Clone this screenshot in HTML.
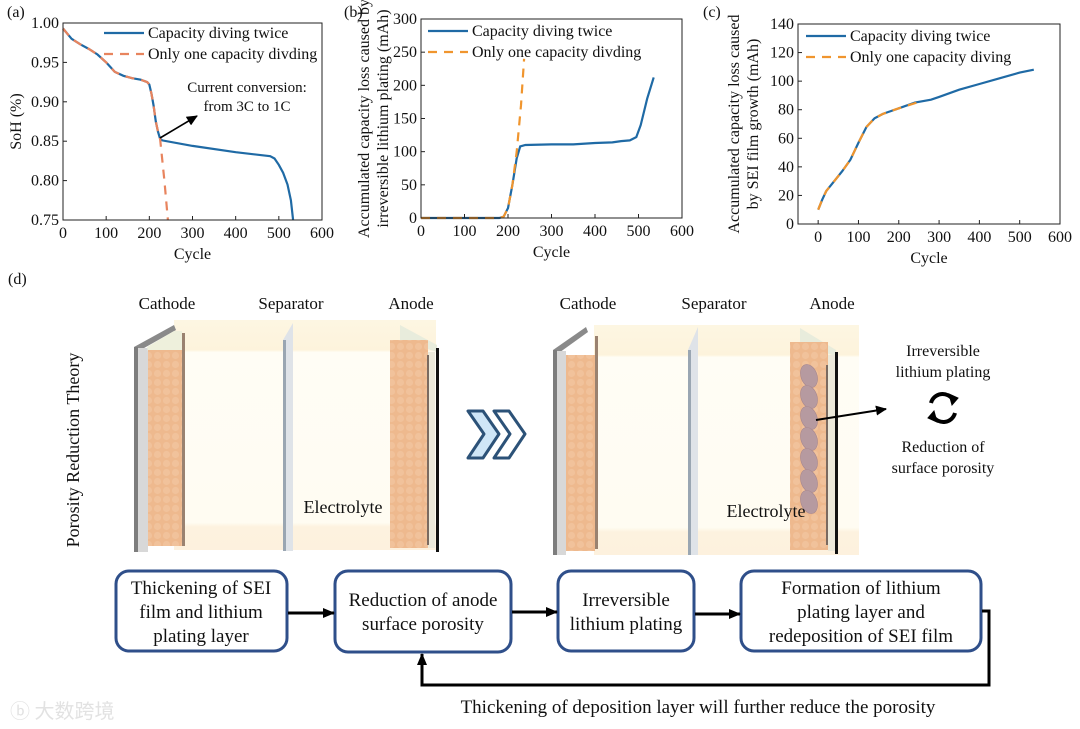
<!DOCTYPE html>
<html><head><meta charset="utf-8"><style>
body{margin:0;background:#fff}
svg{display:block;font-family:"Liberation Serif",serif}
text{fill:#111}
</style></head><body>
<svg id="fig" width="1080" height="729" viewBox="0 0 1080 729" xmlns="http://www.w3.org/2000/svg">
<defs>
<linearGradient id="cellbg" x1="0" y1="0" x2="0" y2="1">
<stop offset="0" stop-color="#fdf6e2"/><stop offset="0.13" stop-color="#fdf3dc"/><stop offset="0.14" stop-color="#fffdf5"/><stop offset="0.88" stop-color="#fffcf2"/><stop offset="0.9" stop-color="#fdf2df"/><stop offset="1" stop-color="#fdf1de"/>
</linearGradient>
<pattern id="dots" width="9" height="9" patternUnits="userSpaceOnUse"><rect width="9" height="9" fill="#eeb98e"/><circle cx="4.5" cy="4.5" r="3.6" fill="#f1c29b"/></pattern>
<marker id="ah" markerUnits="userSpaceOnUse" markerWidth="11" markerHeight="10" refX="10" refY="5" orient="auto"><path d="M0,0 L11,5 L0,10 z" fill="#000"/></marker>
<marker id="ahs" markerUnits="userSpaceOnUse" markerWidth="12" markerHeight="10" refX="11" refY="5" orient="auto"><path d="M0,0 L12,5 L0,10 z" fill="#000"/></marker>
</defs>
<g id="charts"></g>

<!-- panel d -->
<text x="8" y="284" font-size="16">(d)</text>
<text transform="translate(79,450) rotate(-90)" text-anchor="middle" font-size="18">Porosity Reduction Theory</text>

<g>
<rect x="174" y="320" width="262" height="230" fill="url(#cellbg)"/>
<polygon points="134,347 174,325 176,330 137,352" fill="#8a8a8a"/>
<rect x="134" y="347" width="4" height="205" fill="#7d7d7d"/>
<rect x="138" y="348" width="10" height="204" fill="#d8d8d8"/>
<polygon points="147,347 174,331 182,331 182,350 148,352" fill="#eef0dc"/>
<rect x="148" y="350" width="34" height="196" fill="url(#dots)"/>
<rect x="182" y="333" width="3" height="213" fill="#9a8270"/>
<polygon points="283,340 293,323 293,551 283,551" fill="#dfe3e8"/>
<rect x="283" y="340" width="3" height="211" fill="#9aa6b2"/>
<polygon points="400,325 437,345 437,352 400,340" fill="#e8ecdc"/>
<rect x="390" y="340" width="38" height="208" fill="url(#dots)"/>
<rect x="428" y="352" width="7" height="196" fill="#ece9da"/>
<rect x="427" y="355" width="2" height="190" fill="#7a6a60"/>
<rect x="436" y="348" width="3" height="204" fill="#111"/>
</g>
<g>
<rect x="594" y="325" width="265" height="230" fill="url(#cellbg)"/>
<polygon points="553,350 586,327 588,332 556,355" fill="#8a8a8a"/>
<rect x="553" y="350" width="4" height="205" fill="#7d7d7d"/>
<rect x="557" y="351" width="9" height="204" fill="#d8d8d8"/>
<rect x="566" y="355" width="29" height="196" fill="url(#dots)"/>
<rect x="595" y="336" width="3" height="213" fill="#9a8270"/>
<polygon points="688,350 698,327 698,555 688,555" fill="#dfe3e8"/>
<rect x="688" y="350" width="3" height="205" fill="#9aa6b2"/>
<polygon points="800,328 836,350 836,356 800,345" fill="#e8ecdc"/>
<rect x="790" y="342" width="38" height="208" fill="url(#dots)"/>
<rect x="828" y="355" width="7" height="196" fill="#ece9da"/>
<rect x="826" y="365" width="2" height="180" fill="#7a6a60"/>
<rect x="835" y="352" width="3" height="202" fill="#111"/>
<g fill="#b69aa0" stroke="#a8888f" stroke-width="0.6">
<ellipse cx="809" cy="376" rx="8" ry="12" transform="rotate(-20 809 376)"/>
<ellipse cx="809" cy="397" rx="8" ry="12" transform="rotate(-20 809 397)"/>
<ellipse cx="809" cy="418" rx="8" ry="12" transform="rotate(-20 809 418)"/>
<ellipse cx="809" cy="439" rx="8" ry="12" transform="rotate(-20 809 439)"/>
<ellipse cx="809" cy="460" rx="8" ry="12" transform="rotate(-20 809 460)"/>
<ellipse cx="809" cy="481" rx="8" ry="12" transform="rotate(-20 809 481)"/>
<ellipse cx="809" cy="502" rx="8" ry="12" transform="rotate(-20 809 502)"/>
</g>
<line x1="816" y1="420" x2="886" y2="409" stroke="#000" stroke-width="2" marker-end="url(#ah)"/>
</g>
<g text-anchor="middle">
<g font-size="17">
<text x="167" y="309">Cathode</text><text x="291" y="309">Separator</text><text x="411" y="309">Anode</text>
<text x="588" y="309">Cathode</text><text x="714" y="309">Separator</text><text x="832" y="309">Anode</text>
<text x="343" y="513" font-size="18">Electrolyte</text><text x="766" y="517" font-size="18">Electrolyte</text>
</g>
<g font-size="16">
<text x="943" y="356">Irreversible</text><text x="943" y="377">lithium plating</text>
<text x="943" y="452">Reduction of</text><text x="943" y="473">surface porosity</text>
</g>
</g>
<g fill="none" stroke="#000" stroke-width="4">
<path d="M931,403 A12,12 0 0 1 953,400"/><path d="M955,413 A12,12 0 0 1 933,416"/>
<polygon points="949,394 958,398 952,405" fill="#000" stroke-width="1"/>
<polygon points="937,422 928,418 934,411" fill="#000" stroke-width="1"/>
</g>
<g stroke="#2c5278" stroke-width="3" stroke-linejoin="round">
<polygon points="468,411 483,411 499,434 483,458 468,458 484,434" fill="#cfe6f7"/>
<polygon points="494,411 509,411 525,434 509,458 494,458 510,434" fill="#fff"/>
</g>

<g font-size="19" text-anchor="middle">
<g stroke="#2f4f8a" stroke-width="3" fill="#fff">
<rect x="116" y="571" width="171" height="80" rx="13"/>
<rect x="335" y="571" width="176" height="81" rx="13"/>
<rect x="558" y="571" width="136" height="80" rx="13"/>
<rect x="741" y="571" width="240" height="80" rx="13"/>
</g>
<text x="201" y="594">Thickening of SEI</text><text x="201" y="618">film and lithium</text><text x="201" y="642">plating layer</text>
<text x="423" y="606">Reduction of anode</text><text x="423" y="630">surface porosity</text>
<text x="626" y="606">Irreversible</text><text x="626" y="630">lithium plating</text>
<text x="861" y="594">Formation of lithium</text><text x="861" y="618">plating layer and</text><text x="861" y="642">redeposition of SEI film</text>
<g stroke="#000" stroke-width="3" fill="none">
<line x1="288" y1="613" x2="334" y2="613" marker-end="url(#ahs)"/>
<line x1="512" y1="612" x2="557" y2="612" marker-end="url(#ahs)"/>
<line x1="695" y1="614" x2="740" y2="614" marker-end="url(#ahs)"/>
<polyline points="982,611 989,611 989,685 422,685 422,654" marker-end="url(#ahs)"/>
</g>
<text x="698" y="713">Thickening of deposition layer will further reduce the porosity</text>
</g>
<text x="10" y="718" font-size="20" style="fill:#e2e2e2;font-family:'Noto Sans CJK SC',sans-serif">ⓑ 大数跨境</text>
</svg>
<script>
// Chart (a)
const aBlueX=[0,20,40,60,80,100,120,140,160,180,195,200,205,210,215,220,225,230,300,400,480,490,500,510,520,528,533];
const aBlueY=[0.993,0.980,0.973,0.967,0.960,0.950,0.938,0.933,0.930,0.928,0.925,0.922,0.91,0.895,0.875,0.862,0.853,0.851,0.844,0.836,0.831,0.828,0.82,0.81,0.795,0.775,0.75];
const aOrX=[0,20,40,60,80,100,120,140,160,180,195,200,205,210,215,220,225,235,243];
const aOrY=[0.993,0.980,0.973,0.967,0.960,0.950,0.938,0.933,0.930,0.928,0.925,0.922,0.91,0.895,0.875,0.862,0.853,0.80,0.75];
const aXTicks=[0,100,200,300,400,500,600];
const aYTicks=[0.75,0.80,0.85,0.90,0.95,1.00];
// Chart (b)
const bBlueX=[0,180,190,200,210,220,228,240,300,350,400,440,460,480,495,505,520,535];
const bBlueY=[0,0,2,15,50,90,108,110,111,111,113,114,116,117,122,140,180,212];
const bOrX=[0,180,190,200,210,220,230,237];
const bOrY=[0,0,2,15,50,100,170,240];
const bXTicks=[0,100,200,300,400,500,600];
const bYTicks=[0,50,100,150,200,250,300];
// Chart (c)
const cBlueX=[0,10,20,40,60,80,100,120,140,160,200,240,280,300,350,400,450,500,535];
const cBlueY=[10,17,23,30,37,45,57,68,74,77,81,85,87,89,94,98,102,106,108];
const cOrX=[0,10,20,40,60,80,100,120,140,160,200,245];
const cOrY=[10,17,23,30,37,45,57,68,74,77,81,85];
const cXTicks=[0,100,200,300,400,500,600];
const cYTicks=[0,20,40,60,80,100,120,140];

const NS='http://www.w3.org/2000/svg';
const root=document.getElementById('charts');
function mk(tag,attrs,parent){const e=document.createElementNS(NS,tag);for(const k in attrs)e.setAttribute(k,attrs[k]);(parent||root).appendChild(e);return e;}
function chart(o){
  const g=mk('g',{});
  
  
  const sx=v=>o.L+(v-o.x0)/(o.x1-o.x0)*(o.R-o.L);
  const sy=v=>o.B-(v-o.y0)/(o.y1-o.y0)*(o.B-o.T);
  const path=(xs,ys)=>xs.map((x,i)=>(i?'L':'M')+sx(x).toFixed(1)+','+sy(ys[i]).toFixed(1)).join('');
  const bl=mk('path',{d:path(o.bx,o.by),fill:'none',stroke:'#1f6aa5','stroke-width':2.2},g);
  
  
  const ol=mk('path',{d:path(o.ox,o.oy),fill:'none',stroke:o.oc,'stroke-width':2.2,'stroke-dasharray':'9,7'},g);
  
  
  const fr=mk('rect',{x:o.L,y:o.T,width:o.R-o.L,height:o.B-o.T,fill:'none',stroke:'#222','stroke-width':1},g);
  
  
  o.xt.forEach(v=>{const x=sx(v);mk('line',{x1:x,y1:o.B,x2:x,y2:o.B-4,stroke:'#222'},g);
    const t=mk('text',{x:x,y:o.B+18,'text-anchor':'middle','font-size':16},g);t.textContent=v;
    
    });
  o.yt.forEach(v=>{const y=sy(v);mk('line',{x1:o.L,y1:y,x2:o.L+4,y2:y,stroke:'#222'},g);
    const t=mk('text',{x:o.L-4,y:y+5,'text-anchor':'end','font-size':16},g);t.textContent=o.fmt(v);
    
    });
  const xl=mk('text',{x:(o.L+o.R)/2,y:o.B+39,'text-anchor':'middle','font-size':16},g);xl.textContent='Cycle';
  
  
  o.yl.forEach((s,i)=>{const t=mk('text',{transform:`translate(${o.ylx+i*19},${(o.T+o.B)/2}) rotate(-90)`,'text-anchor':'middle','font-size':16},g);t.textContent=s;
    
    });
  const lg=mk('g',{},g);
  
  
  mk('line',{x1:o.lgx,y1:o.lgy,x2:o.lgx+40,y2:o.lgy,stroke:'#1f6aa5','stroke-width':2.2},lg);
  mk('line',{x1:o.lgx,y1:o.lgy+21,x2:o.lgx+40,y2:o.lgy+21,stroke:o.oc,'stroke-width':2.2,'stroke-dasharray':'9,7'},lg);
  let t=mk('text',{x:o.lgx+44,y:o.lgy+5,'font-size':16},lg);t.textContent='Capacity diving twice';
  t=mk('text',{x:o.lgx+44,y:o.lgy+26,'font-size':16},lg);t.textContent=o.l2;
  const pl=mk('text',{x:o.plx,y:17,'font-size':16},g);pl.textContent=o.pl;
  
  
}
chart({name:'chart-a-soh',L:63,R:322,T:23,B:220,x0:0,x1:600,y0:0.75,y1:1.0,bx:aBlueX,by:aBlueY,ox:aOrX,oy:aOrY,oc:'#e8845e',xt:aXTicks,yt:aYTicks,fmt:v=>v.toFixed(2),yl:['SoH (%)'],ylx:21,lgx:104,lgy:33,l2:'Only one capacity divding',pl:'(a)',plx:7});
chart({name:'chart-b-lithium-plating',L:421,R:682,T:19,B:218,x0:0,x1:600,y0:0,y1:300,bx:bBlueX,by:bBlueY,ox:bOrX,oy:bOrY,oc:'#f0952e',xt:bXTicks,yt:bYTicks,fmt:v=>v,yl:['Accumulated capacity loss caused by','irreversible lithium plating (mAh)'],ylx:369,lgx:428,lgy:31,l2:'Only one capacity divding',pl:'(b)',plx:344});
chart({name:'chart-c-sei-growth',L:798,R:1060,T:24,B:224,x0:-50,x1:600,y0:0,y1:140,bx:cBlueX,by:cBlueY,ox:cOrX,oy:cOrY,oc:'#f0952e',xt:cXTicks,yt:cYTicks,fmt:v=>v,yl:['Accumulated capacity loss caused','by SEI film growth (mAh)'],ylx:739,lgx:806,lgy:36,l2:'Only one capacity diving',pl:'(c)',plx:703});
// annotation in chart a
const an=mk('line',{x1:160,y1:138,x2:197,y2:116,stroke:'#000','stroke-width':1.6,'marker-end':'url(#ah)'});


let at=mk('text',{x:247,y:92,'text-anchor':'middle','font-size':15});at.textContent='Current conversion:';


at=mk('text',{x:247,y:111,'text-anchor':'middle','font-size':15});at.textContent='from 3C to 1C';


</script>
</body></html>
